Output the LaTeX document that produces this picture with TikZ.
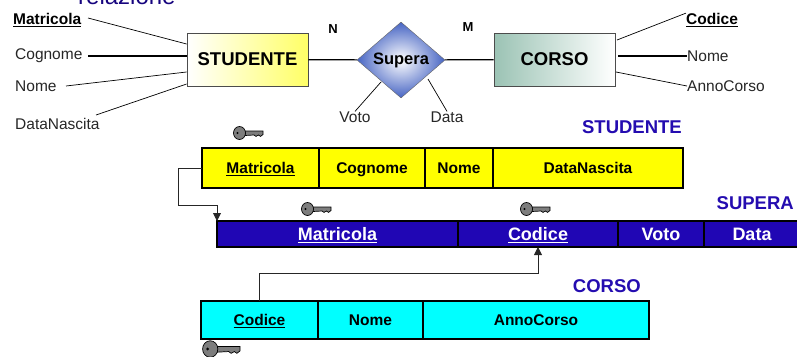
\documentclass[tikz,border=0pt]{standalone}
\usepackage{fontspec}
\setmainfont{Liberation Sans}
\usetikzlibrary{shapes.geometric,arrows.meta}
\definecolor{titolo}{RGB}{36,12,176}
\definecolor{blurel}{RGB}{32,6,180}
\definecolor{blurombo}{RGB}{70,100,195}
\definecolor{verdecorso}{RGB}{155,195,180}
\definecolor{grigiochiave}{RGB}{125,125,125}
\definecolor{giallo}{RGB}{255,255,0}
\definecolor{giallino}{RGB}{255,255,102}
\definecolor{ciano}{RGB}{0,255,255}
\tikzset{
    entita/.style={draw=black!70,line width=.8pt,minimum width=121pt,minimum height=53pt,font=\fontsize{18.5}{18}\selectfont\bfseries},
    attr/.style={inner sep=0pt,font=\fontsize{15.5}{16}\selectfont,text=black!85},
    attrkey/.style={attr,font=\fontsize{15.5}{16}\selectfont\bfseries,text=black},
    titolotab/.style={inner sep=0pt,anchor=east,text=titolo,font=\fontsize{18.5}{18}\selectfont\bfseries},
    cardin/.style={inner sep=0pt,font=\fontsize{13}{13}\selectfont\bfseries},
    cella/.style={draw=black,line width=1.6pt,outer sep=0pt,anchor=north west,inner sep=0pt,text height=12pt,text depth=1.5pt,font=\fontsize{15.5}{16}\selectfont\bfseries},
    fk/.style={-{Stealth[length=8pt,width=8pt,inset=0pt]},black!85,line width=.9pt},
    chiave/.pic={
        \filldraw[draw=black,fill=grigiochiave,line width=.7pt] (-3,-2) -- (15,-2) -- (15,1.5) -- (12.5,3.4) -- (10.5,2) -- (8,3.4) -- (6,2) -- (-3,2.5) -- cycle;
        \filldraw[draw=black,fill=grigiochiave,line width=.7pt] (-8.5,0) ellipse (6 and 6.5);
        \fill[black] (-10.5,0) circle (1.2);
    }
}
\begin{document}
\begin{tikzpicture}[x=1pt,y=-1pt,line cap=butt]
    \useasboundingbox (0,0) rectangle (797,356);
    \clip (0,0) rectangle (797,356);
    \node[anchor=base west,inner sep=0pt,text=blurel!70!black,font=\fontsize{24}{24}\selectfont] (rel) at (78,5) {relazione};
    % schema E-R
    \node[entita,left color=white,right color=giallino] (studente) at (247.5,59.5) {STUDENTE};
    \node[entita,left color=verdecorso,right color=white] (corso) at (554.5,59.5) {CORSO};
    \node[diamond,draw=black!60,inner sep=0pt,minimum width=88pt,minimum height=76pt,inner color=white,outer color=blurombo,font=\fontsize{16.5}{16}\selectfont\bfseries] (supera) at (401,60) {Supera};
    \draw[line width=1.2pt] (studente) -- (supera) (supera) -- (corso);
    \node[cardin] (n) at (333,29) {N};
    \node[cardin] (m) at (468,27) {M};
    % attributi
    \node[attrkey,anchor=west] (aMatricola) at (13,20) {\underline{Matricola}};
    \node[attr,anchor=west] (aCognome) at (15,56) {Cognome};
    \node[attr,anchor=west] (aNome) at (15,86) {Nome};
    \node[attr,anchor=west] (aData) at (15,124) {DataNascita};
    \node[attrkey,anchor=west] (aCodice) at (686,20) {\underline{Codice}};
    \node[attr,anchor=west] (bNome) at (687,56) {Nome};
    \node[attr,anchor=west] (bAnno) at (687,86) {AnnoCorso};
    \node[attr] (voto) at (355,117) {Voto};
    \node[attr] (data) at (447,117) {Data};
    \draw[line width=.7pt] (88,18) -- (studente.west|-0,44);
    \draw[line width=1.2pt] (88,56) -- (studente.west|-0,56);
    \draw[line width=.7pt] (66,86) -- (studente.west|-0,72);
    \draw[line width=.7pt] (96,115) -- (studente.west|-0,84);
    \draw[line width=.7pt] (617,40) -- (aCodice.north west);
    \draw[line width=1.2pt] (618,56) -- (bNome.west);
    \draw[line width=.7pt] (616,72) -- (bAnno.west);
    \draw[line width=.7pt] (381,82) -- (voto.north);
    \draw[line width=.7pt] (428,79) -- (data.north);
    % tabella studente
    \node[titolotab] (tStudente) at (682,127) {STUDENTE};
    \begin{scope}[every node/.append style={cella,fill=giallo,minimum height=40pt}]
        \node[minimum width=117pt] (stMatricola) at (202,148) {\underline{Matricola}};
        \node[minimum width=106pt] (stCognome) at (319,148) {Cognome};
        \node[minimum width=68pt] (stNome) at (425,148) {Nome};
        \node[minimum width=190pt] (stData) at (493,148) {DataNascita};
    \end{scope}
    % tabella supera
    \node[titolotab] (tSupera) at (794,203) {SUPERA};
    \begin{scope}[every node/.append style={cella,fill=blurel,text=white,minimum height=26pt,text height=14pt,text depth=1pt,font=\fontsize{18}{18}\selectfont\bfseries}]
        \node[minimum width=241pt] (reMatricola) at (217,221) {\underline{Matricola}};
        \node[minimum width=160pt] (reCodice) at (458,221) {\underline{Codice}};
        \node[minimum width=86pt] (reVoto) at (618,221) {Voto};
        \node[minimum width=96pt] (reData) at (704,221) {Data};
    \end{scope}
    % tabella corso
    \node[titolotab] (tCorso) at (641,286) {CORSO};
    \begin{scope}[every node/.append style={cella,fill=ciano,minimum height=38pt}]
        \node[minimum width=117pt] (coCodice) at (201,301) {\underline{Codice}};
        \node[minimum width=105pt] (coNome) at (318,301) {Nome};
        \node[minimum width=226pt] (coAnno) at (423,301) {AnnoCorso};
    \end{scope}
    % chiavi esterne
    \draw[fk] (stMatricola.west) -- ++(-24,0) |- ++(39,37) -- (reMatricola.north west);
    \draw[fk] (coCodice.north) -- ++(0,-28) -| (reCodice.south);
    % chiavi
    \pic at (248,133) {chiave};
    \pic at (316,209) {chiave};
    \pic at (535,209) {chiave};
    \pic[scale=1.27] at (221,349) {chiave};
\end{tikzpicture}
\end{document}
